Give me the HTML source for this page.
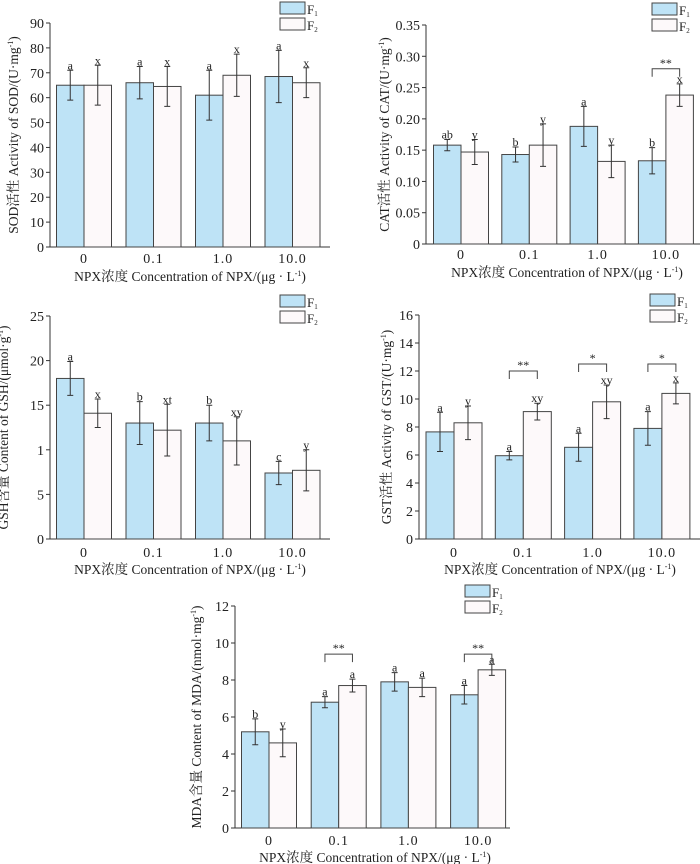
<!DOCTYPE html>
<html><head><meta charset="utf-8"><style>
body{margin:0;background:#fff}
svg{display:block;font-family:"Liberation Serif","Noto Serif CJK SC",serif}
</style></head><body>
<svg id="s" width="700" height="864" viewBox="0 0 700 864"></svg>
<script>
const categories=["0","0.1","1.0","10.0"];
const sodF1=[65,66,61,68.5], sodF1Err=[6,6.5,10,10.5], sodF2=[65,64.5,69,66], sodF2Err=[8,8,8.5,6];
const sodL1=["a","a","a","a"], sodL2=["x","x","x","x"];
const sodTicks=["0","10","20","30","40","50","60","70","80","90"];
const catF1=[0.158,0.143,0.188,0.133], catF1Err=[0.009,0.012,0.032,0.021], catF2=[0.147,0.158,0.132,0.238], catF2Err=[0.02,0.034,0.026,0.018];
const catL1=["ab","b","a","b"], catL2=["y","y","y","x"];
const catTicks=["0","0.05","0.10","0.15","0.20","0.25","0.30","0.35"];
const gshF1=[18,13,13,7.4], gshF1Err=[1.9,2.4,2,1.3], gshF2=[14.1,12.2,11,7.7], gshF2Err=[1.6,2.9,2.7,2.3];
const gshL1=["a","b","b","c"], gshL2=["x","xt","xy","y"];
const gshTicks=["0","5","1","15","20","25"];
const gstF1=[7.65,5.95,6.55,7.9], gstF1Err=[1.4,0.3,1,1.2], gstF2=[8.3,9.1,9.8,10.4], gstF2Err=[1.2,0.6,1.2,0.75];
const gstL1=["a","a","a","a"], gstL2=["y","xy","xy","x"];
const gstTicks=["0","2","4","6","8","10","12","14","16"];
const mdaF1=[5.2,6.8,7.9,7.2], mdaF1Err=[0.7,0.3,0.5,0.5], mdaF2=[4.6,7.7,7.6,8.55], mdaF2Err=[0.75,0.35,0.5,0.3];
const mdaL1=["b","a","a","a"], mdaL2=["y","a","a","a"];
const mdaTicks=["0","2","4","6","8","10","12"];
const catSig=[null,null,null,"**"], catSigY=[0,0,0,0.28];
const gstSig=[null,"**","*","*"], gstSigY=[0,12,12.5,12.5];
const mdaSig=[null,"**",null,"**"], mdaSigY=[0,9.4,0,9.4];

const S=document.getElementById('s'),NS='http://www.w3.org/2000/svg';
function el(t,a,p){const e=document.createElementNS(NS,t);for(const k in a)e.setAttribute(k,a[k]);(p||S).appendChild(e);return e;}
function panel(o){
  const g=el('g',{});
  
  
  const max=o.max,y=v=>o.y0-(v/max)*(o.y0-o.yTop);
  const step=o.max/(o.ticks.length-1);
  const ax=el('path',{d:`M${o.ax},${o.yTop}V${o.y0}H${o.xEnd}`,stroke:'#333','stroke-width':1,fill:'none'},g);
  
  o.ticks.forEach((t,i)=>{const yy=y(i*step);
    el('line',{x1:o.ax-4,x2:o.ax,y1:yy,y2:yy,stroke:'#333'},g);
    const tx=el('text',{x:o.ax-6,y:yy+5,'text-anchor':'end','font-size':14,fill:'#222'},g);tx.textContent=t;
    });
  const bw=o.bw;
  categories.forEach((c,i)=>{const cx=o.c0+i*o.sp;
    const t=el('text',{x:cx,y:o.xl,'text-anchor':'middle','font-size':14,fill:'#222','letter-spacing':'1'},g);t.textContent=c;
    
    [[o.f1,o.e1,o.l1,'#bee3f6',-1],[o.f2,o.e2,o.l2,'#fdf9fa',0]].forEach(([v,e,l,col,off],k)=>{
      const x=cx+off*bw,top=y(v[i]);
      const r=el('rect',{x:x,y:top,width:bw,height:o.y0-top,fill:col,stroke:'#444','stroke-width':1},g);
      
      const m=x+bw/2,a=y(v[i]+e[i]),b=y(v[i]-e[i]);
      const eb=el('path',{d:`M${m},${a}V${b}M${m-3},${a}H${m+3}M${m-3},${b}H${m+3}`,stroke:'#333','stroke-width':1},g);
      
      const lt=el('text',{x:m,y:a-1,'text-anchor':'middle','font-size':12,fill:'#222'},g);lt.textContent=l[i];
      
    });
    if(o.sig&&o.sig[i]){const yy=y(o.sigY[i]),x1=cx-bw/2,x2=cx+bw/2;
      const br=el('path',{d:`M${x1},${yy+8}V${yy}H${x2}V${yy+8}`,stroke:'#444',fill:'none'},g);
      
      const st=el('text',{x:cx,y:yy-2,'text-anchor':'middle','font-size':12,fill:'#222'},g);st.textContent=o.sig[i];
      }
  });
  const xt=el('text',{x:o.xtx,y:o.xt,'text-anchor':'middle','font-size':13.5,fill:'#222'},g);
  xt.innerHTML='NPX浓度 Concentration of  NPX/(μg · L<tspan dy="-5" font-size="8">-1</tspan><tspan dy="5">)</tspan>';
  
  const yc=(o.yTop+o.y0)/2;
  const yt=el('text',{x:o.ytx,y:yc,'text-anchor':'middle','font-size':13.5,fill:'#222',transform:`rotate(-90 ${o.ytx} ${yc})`},g);
  yt.innerHTML=o.ytitle;
  
  [['#bee3f6','F','1'],['#fdf9fa','F','2']].forEach((d,k)=>{
    const r=el('rect',{x:o.lx,y:o.ly+k*16,width:25,height:12,fill:d[0],stroke:'#444'},g);
    
    const t=el('text',{x:o.lx+27,y:o.ly+k*16+12,'font-size':13,fill:'#222'},g);
    t.innerHTML=`F<tspan font-size="7" dy="2">${d[2]}</tspan>`;
    });
}
panel({name:'sod-chart',ax:50,yTop:23,y0:247,xEnd:330,max:90,ticks:sodTicks,c0:84,sp:69.5,bw:27.5,
 f1:sodF1,e1:sodF1Err,f2:sodF2,e2:sodF2Err,l1:sodL1,l2:sodL2,xl:263,xt:281,xtx:190,ytx:18,
 ytitle:'SOD活性 Activity of SOD/(U·mg<tspan dy="-5" font-size="8">-1</tspan><tspan dy="5">)</tspan>',lx:280,ly:2});
panel({name:'cat-chart',ax:426,yTop:25,y0:244,xEnd:700,max:0.35,ticks:catTicks,c0:461,sp:68.3,bw:27.5,
 f1:catF1,e1:catF1Err,f2:catF2,e2:catF2Err,l1:catL1,l2:catL2,xl:259,xt:277,xtx:567,ytx:389,sig:catSig,sigY:catSigY,
 ytitle:'CAT活性 Activity of CAT/(U·mg<tspan dy="-5" font-size="8">-1</tspan><tspan dy="5">)</tspan>',lx:652,ly:3});
panel({name:'gsh-chart',ax:50,yTop:316,y0:539,xEnd:330,max:25,ticks:gshTicks,c0:84,sp:69.5,bw:27.5,
 f1:gshF1,e1:gshF1Err,f2:gshF2,e2:gshF2Err,l1:gshL1,l2:gshL2,xl:557,xt:574,xtx:190,ytx:8,
 ytitle:'GSH含量 Content of GSH/(μmol·g<tspan dy="-5" font-size="8">-1</tspan><tspan dy="5">)</tspan>',lx:280,ly:295});
panel({name:'gst-chart',ax:419,yTop:315,y0:539,xEnd:700,max:16,ticks:gstTicks,c0:454,sp:69.3,bw:28,
 f1:gstF1,e1:gstF1Err,f2:gstF2,e2:gstF2Err,l1:gstL1,l2:gstL2,xl:557,xt:574,xtx:560,ytx:391,sig:gstSig,sigY:gstSigY,
 ytitle:'GST活性 Activity of GST/(U·mg<tspan dy="-5" font-size="8">-1</tspan><tspan dy="5">)</tspan>',lx:650,ly:294});
panel({name:'mda-chart',ax:235,yTop:606,y0:828,xEnd:510,max:12,ticks:mdaTicks,c0:269,sp:69.7,bw:27.5,
 f1:mdaF1,e1:mdaF1Err,f2:mdaF2,e2:mdaF2Err,l1:mdaL1,l2:mdaL2,xl:845,xt:862,xtx:375,ytx:201,sig:mdaSig,sigY:mdaSigY,
 ytitle:'MDA含量 Content of MDA/(nmol·mg<tspan dy="-5" font-size="8">-1</tspan><tspan dy="5">)</tspan>',lx:465,ly:585});
</script>
</body></html>
